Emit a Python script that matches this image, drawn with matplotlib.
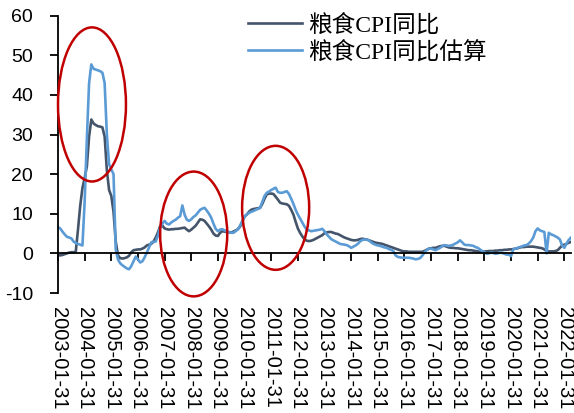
import numpy as np
import pandas as pd
import matplotlib
matplotlib.use("Agg")
import matplotlib.pyplot as plt
from matplotlib.patches import Ellipse
from matplotlib.font_manager import FontProperties

# Monthly series, 2003-01 .. 2022-04 (%)
grain_cpi_yoy = [
    -0.5, -0.5, -0.4, -0.2, 0.0, 0.2, 0.3, 0.3, 0.4, 6.0, 12.0, 16.5,       # 2003
    19.0, 22.0, 29.5, 33.8, 32.8, 32.4, 32.1, 32.0, 31.8, 29.5, 21.0, 16.0,  # 2004
    14.5, 10.5, 3.0, -0.5, -1.2, -1.3, -1.2, -1.0, -0.6, 0.3, 0.8, 0.9,      # 2005
    1.0, 1.0, 1.2, 1.5, 2.0, 2.2, 2.4, 3.0, 4.0, 5.3, 6.9, 7.0,              # 2006
    6.3, 6.1, 6.0, 6.1, 6.1, 6.2, 6.2, 6.3, 6.4, 6.5, 6.0, 5.6,              # 2007
    6.0, 6.5, 7.0, 7.8, 8.6, 8.5, 8.2, 7.5, 6.8, 6.0, 5.0, 4.5,              # 2008
    4.4, 5.2, 5.6, 5.5, 5.4, 5.3, 5.3, 5.5, 5.8, 6.1, 6.8, 8.0,              # 2009
    9.3, 9.8, 10.5, 11.0, 11.2, 11.3, 11.4, 11.5, 12.5, 13.8, 14.9, 15.1,    # 2010
    15.1, 15.0, 14.3, 13.6, 12.8, 12.6, 12.5, 12.4, 12.0, 11.0, 9.8, 8.0,    # 2011
    6.3, 5.2, 4.3, 3.6, 3.2, 3.1, 3.2, 3.4, 3.7, 4.0, 4.3, 4.6,              # 2012
    5.1, 5.3, 5.4, 5.4, 5.2, 5.0, 4.9, 4.6, 4.3, 4.0, 3.8, 3.6,              # 2013
    3.4, 3.3, 3.3, 3.4, 3.6, 3.7, 3.6, 3.5, 3.3, 3.1, 2.9, 2.7,              # 2014
    2.6, 2.5, 2.4, 2.2, 2.0, 1.8, 1.6, 1.4, 1.2, 1.0, 0.8, 0.6,              # 2015
    0.5, 0.5, 0.4, 0.4, 0.4, 0.4, 0.4, 0.4, 0.4, 0.6, 0.9, 1.2,              # 2016
    1.3, 1.4, 1.4, 1.6, 1.8, 1.9, 1.9, 1.7, 1.5, 1.4, 1.4, 1.3,              # 2017
    1.3, 1.2, 1.1, 1.0, 0.9, 0.8, 0.8, 0.7, 0.6, 0.5, 0.4, 0.4,              # 2018
    0.5, 0.5, 0.6, 0.6, 0.6, 0.7, 0.7, 0.8, 0.8, 0.9, 0.9, 1.0,              # 2019
    1.0, 1.1, 1.2, 1.3, 1.5, 1.6, 1.6, 1.7, 1.7, 1.7, 1.7, 1.6,              # 2020
    1.5, 1.4, 1.3, 1.0, 0.6, 0.5, 0.5, 0.5, 0.6, 0.8, 1.4, 2.0,              # 2021
    2.2, 2.4, 2.7, 2.9,                                                      # 2022
]

grain_cpi_yoy_est = [
    6.6, 6.3, 5.5, 4.8, 4.2, 4.0, 3.8, 3.0, 2.6, 2.4, 2.2, 2.0,              # 2003
    13.0, 29.0, 43.0, 47.7, 46.6, 46.4, 46.2, 46.0, 45.6, 43.0, 30.0, 22.5,  # 2004
    21.2, 20.0, 1.0, -1.5, -2.5, -3.0, -3.4, -3.8, -4.0, -3.2, -2.0, -0.8,   # 2005
    -1.5, -2.3, -2.0, -1.0, 0.2, 1.5, 2.8, 2.9, 3.0, 4.5, 6.5, 7.5,          # 2006
    8.2, 7.5, 7.3, 7.8, 8.2, 8.5, 9.0, 9.4, 12.1, 9.8, 8.5, 8.2,             # 2007
    8.6, 9.2, 9.6, 10.3, 11.0, 11.3, 11.5, 10.8, 10.0, 9.0, 7.5, 6.2,        # 2008
    5.6, 6.0, 6.1, 5.8, 5.6, 5.4, 5.2, 5.2, 5.6, 6.1, 7.0, 8.2,              # 2009
    9.3, 9.8, 10.2, 10.5, 10.7, 11.0, 11.2, 11.5, 13.0, 14.5, 15.3, 15.6,    # 2010
    16.0, 16.3, 16.6, 15.5, 15.3, 15.3, 15.5, 15.7, 15.0, 13.8, 12.5, 11.0,  # 2011
    9.8, 8.8, 7.8, 6.8, 6.0, 5.8, 5.6, 5.7, 5.8, 5.9, 6.0, 6.2,              # 2012
    5.6, 4.8, 4.2, 3.6, 3.3, 3.0, 2.7, 2.4, 2.3, 2.2, 2.1, 1.8,              # 2013
    1.4, 1.7, 2.0, 2.4, 3.0, 3.4, 3.5, 3.5, 3.3, 2.8, 2.4, 2.2,              # 2014
    2.0, 1.9, 1.7, 1.5, 1.4, 1.1, 0.9, 0.6, -0.5, -0.9, -1.0, -1.1,          # 2015
    -1.1, -1.1, -1.1, -1.2, -1.3, -1.5, -1.4, -1.2, -0.6, 0.2, 0.8, 1.2,     # 2016
    1.2, 1.0, 0.8, 1.1, 1.4, 1.8, 2.1, 2.0, 1.9, 2.0, 2.2, 2.5,              # 2017
    2.8, 3.3, 2.8, 2.2, 2.1, 2.1, 2.0, 1.9, 1.6, 1.4, 1.0, 0.6,              # 2018
    0.3, -0.1, 0.0, 0.2, 0.1, -0.1, 0.0, 0.2, 0.1, -0.1, -0.3, -0.3,         # 2019
    -0.7, 1.0, 1.2, 1.4, 1.6, 1.8, 2.0, 2.1, 2.5, 3.1, 4.0, 5.6,             # 2020
    6.3, 5.8, 5.6, 5.4, 0.0, 5.2, 4.8, 4.6, 4.3, 4.0, 3.5, 2.0,              # 2021
    1.4, 2.5, 3.4, 4.0,                                                      # 2022
]

dates = pd.date_range("2003-01-31", periods=len(grain_cpi_yoy), freq="ME")
tick_labels = [d.strftime("%Y-%m-%d") for d in dates if d.month == 1]
series_names = ["粮食CPI同比", "粮食CPI同比估算"]
y_ticks = [-10, 0, 10, 20, 30, 40, 50, 60]

# highlighted periods: (centre month index, centre value, width in months, height)
highlights = [(15.3, 37.6, 30.6, 38.9), (61.1, 4.9, 30.2, 31.5), (98.0, 11.5, 30.2, 31.3)]

x = np.arange(len(dates))
tick_pos = x[[d.month == 1 for d in dates]]

W, H = 574, 413
fig = plt.figure(figsize=(W / 100, H / 100), dpi=100)
ax = fig.add_axes([58 / W, 1 - 293 / H, (571 - 58) / W, (293 - 15.7) / H])

dark, light, red = "#44546A", "#5B9BD5", "#C00000"
ax.plot(x, grain_cpi_yoy, color=dark, lw=1.9, label=series_names[0])
ax.plot(x, grain_cpi_yoy_est, color=light, lw=1.9, label=series_names[1])

for cx, cy, w, h in highlights:
    ax.add_patch(Ellipse((cx, cy), w, h, fill=False, edgecolor=red, lw=1.8, clip_on=False, zorder=5))

ax.set_xlim(0, 231)
ax.set_ylim(-10, 60)

for s in ("top", "right"):
    ax.spines[s].set_visible(False)
ax.spines["bottom"].set_position(("data", 0))
for s in ("left", "bottom"):
    ax.spines[s].set_linewidth(1.3)
    ax.spines[s].set_color("black")

tick_font = "Liberation Sans"
ax.set_yticks(y_ticks)
ax.set_yticklabels([str(v) for v in y_ticks], fontsize=14, family=tick_font)
ax.tick_params(axis="y", direction="out", length=6, width=1.3, pad=12)
ax.set_xticks(tick_pos)
ax.tick_params(axis="x", direction="out", length=6, width=1.3, labelbottom=False)

# date labels sit along the bottom edge, below the -10 line
sec = ax.secondary_xaxis("bottom")
sec.set_xticks(tick_pos)
sec.set_xticklabels(tick_labels, rotation=270, fontsize=14.5, family=tick_font, ha="center", va="top")
sec.tick_params(axis="x", length=0, pad=10)
sec.spines["bottom"].set_visible(False)

leg_font = FontProperties(family=["Liberation Serif", "Noto Sans CJK SC"], size=17)
fig.legend(loc="upper left", bbox_to_anchor=(248 / W, 1 - 14 / H), frameon=False, prop=leg_font,
           handlelength=2.3, handletextpad=0.25, borderpad=0, borderaxespad=0, labelspacing=0.2)

fig.savefig("out.png", dpi=100)
